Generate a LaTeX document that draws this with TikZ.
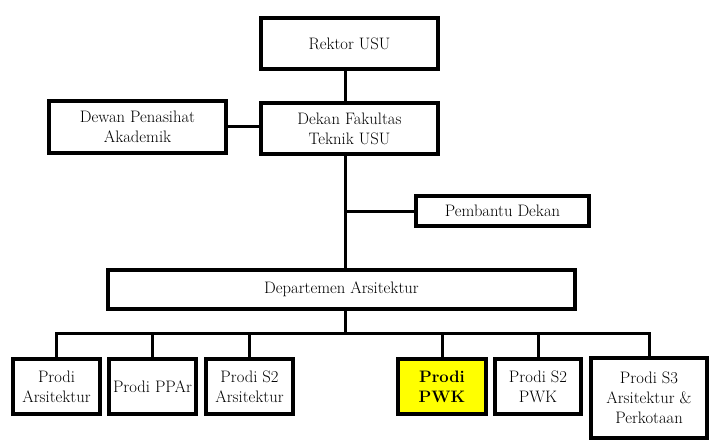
\documentclass[tikz,border=0pt]{standalone}
\usepackage{tikz}
\usetikzlibrary{positioning,calc}
\definecolor{hilite}{RGB}{255,255,0}
\tikzset{
  unitbox/.style={rectangle,draw=black,line width=4pt,fill=white,
                  inner sep=0pt,align=center,
                  font=\fontsize{16.6}{20}\selectfont},
  prodibox/.style={unitbox,minimum height=55pt},
  link/.style={line width=3pt},
}
\begin{document}
\begin{tikzpicture}[x=1pt, y=-1pt]
\useasboundingbox (0,0) rectangle (722,445);

\coordinate (trunk) at (345,0);
\coordinate (bus) at (345,333.5);

\node[unitbox,minimum width=177pt,minimum height=51pt] (rektor) at (349.5,43.5) {Rektor USU};
\node[unitbox,minimum width=177pt,minimum height=51pt] (dekan) at (349.5,128.5) {Dekan Fakultas\\Teknik USU};
\node[unitbox,minimum width=177pt,minimum height=52pt] (dewan) at (137.5,127) {Dewan Penasihat\\Akademik};
\node[unitbox,minimum width=173pt,minimum height=30pt] (pembantu) at (502.5,211) {Pembantu Dekan};
\node[unitbox,minimum width=467pt,minimum height=39pt] (dept) at (341.5,289.5) {Departemen Arsitektur};

\node[prodibox,minimum width=87pt] (ars) at (56.5,386.5) {Prodi\\Arsitektur};
\node[prodibox,minimum width=87pt] (ppar) at (152.5,386.5) {Prodi PPAr};
\node[prodibox,minimum width=87pt] (sars) at (249.5,386.5) {Prodi S2\\Arsitektur};
\node[prodibox,minimum width=88pt,fill=hilite,font=\fontsize{16.6}{20}\selectfont\bfseries] (pwk) at (442,386.5) {Prodi\\PWK};
\node[prodibox,minimum width=86pt] (spwk) at (538,386.5) {Prodi S2\\PWK};
\node[unitbox,minimum width=116pt,minimum height=80pt] (sdok) at (649,398) {Prodi S3\\Arsitektur \&\\Perkotaan};

\draw[link] (rektor.south -| trunk) -- (dekan.north -| trunk);
\draw[link] (dekan.south -| trunk) -- (dept.north -| trunk);
\draw[link] (dewan.east |- 0,126) -- (dekan.west |- 0,126);
\draw[link] (pembantu.west) -- (pembantu.west -| trunk);
\draw[link] (dept.south -| trunk) -- (bus);
\draw[link] (ars.north) |- (bus) -| (sdok.north);
\foreach \p in {ppar,sars,pwk,spwk}
  \draw[link] (\p.north) -- (\p.north |- bus);
\end{tikzpicture}
\end{document}
